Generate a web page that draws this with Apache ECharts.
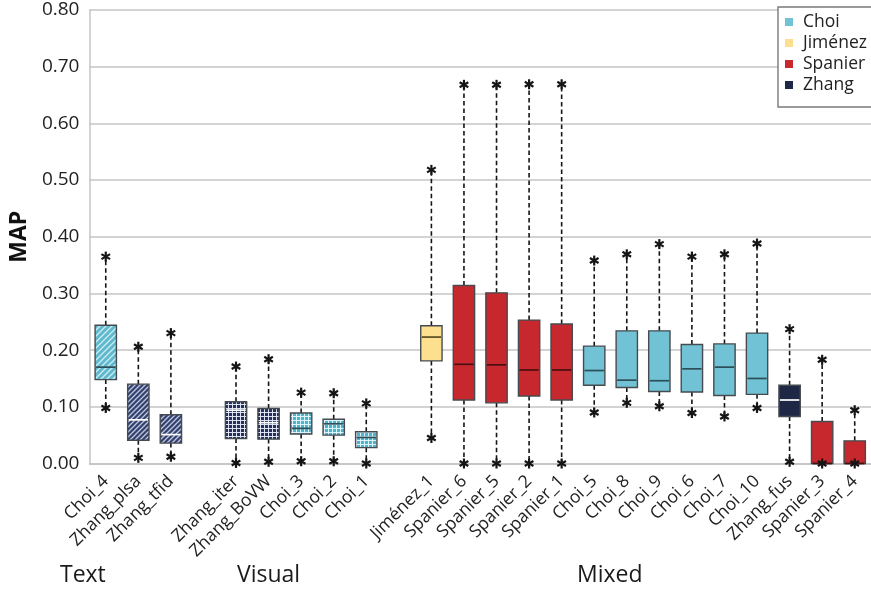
<!DOCTYPE html>
<html>
<head>
<meta charset="utf-8">
<script src="https://cdn.jsdelivr.net/npm/echarts@6/dist/echarts.min.js"></script>
<style>
html,body{margin:0;padding:0;background:#fff;}
#chart{width:871px;height:594px;}
</style>
</head>
<body>
<div id="chart"></div>
<script>
// ---- data ----
const categories = ['Choi_4','Zhang_plsa','Zhang_tfid',' ','Zhang_iter','Zhang_BoVW','Choi_3','Choi_2','Choi_1','  ',
  'Jiménez_1','Spanier_6','Spanier_5','Spanier_2','Spanier_1','Choi_5','Choi_8','Choi_9','Choi_6','Choi_7','Choi_10',
  'Zhang_fus','Spanier_3','Spanier_4'];
const authors = ['Choi','Zhang','Zhang',null,'Zhang','Zhang','Choi','Choi','Choi',null,
  'Jiménez','Spanier','Spanier','Spanier','Spanier','Choi','Choi','Choi','Choi','Choi','Choi',
  'Zhang','Spanier','Spanier'];
const fills = ['hatch','hatch','hatch',null,'grid','grid','grid','grid','grid',null,
  'solid','solid','solid','solid','solid','solid','solid','solid','solid','solid','solid',
  'solid','solid','solid'];
const whiskerLow = [0.098,0.010,0.012,null,0.001,0.003,0.004,0.004,0.000,null,
  0.045,0.000,0.000,0.000,0.000,0.090,0.107,0.101,0.089,0.083,0.098,0.003,0.000,0.000];
const boxLow = [0.148,0.041,0.036,null,0.044,0.043,0.052,0.050,0.028,null,
  0.181,0.112,0.107,0.119,0.112,0.138,0.134,0.127,0.126,0.120,0.122,0.083,0.000,0.000];
const medians = [0.170,0.077,0.051,null,0.094,0.072,0.062,0.070,0.046,null,
  0.223,0.175,0.174,0.165,0.165,0.164,0.147,0.146,0.167,0.170,0.150,0.112,0.000,0.000];
const boxHigh = [0.244,0.140,0.086,null,0.109,0.097,0.089,0.078,0.056,null,
  0.243,0.314,0.301,0.253,0.246,0.207,0.234,0.234,0.210,0.211,0.230,0.138,0.074,0.040];
const whiskerHigh = [0.365,0.206,0.230,null,0.171,0.184,0.125,0.124,0.106,null,
  0.518,0.668,0.668,0.669,0.669,0.358,0.369,0.387,0.365,0.369,0.388,0.237,0.183,0.094];
const legendNames = ['Choi','Jiménez','Spanier','Zhang'];
const yTicks = [0,0.1,0.2,0.3,0.4,0.5,0.6,0.7,0.8];
const groupLabels = ['Text','Visual','Mixed'];

// ---- styles ----
const authorColor = {Choi:'#70C2D4', 'Jiménez':'#FDE08F', Spanier:'#C7282D', Zhang:'#1E2846'};
const medianColor = {Choi:'#2c4f5a', 'Jiménez':'#5a4a20', Spanier:'#4a1010', Zhang:'#ffffff'};
const FONT = 'Open Sans';

function makeHatch(bg, fg, size, lw){
  const c = document.createElement('canvas'); c.width = size; c.height = size;
  const g = c.getContext('2d');
  g.fillStyle = bg; g.fillRect(0,0,size,size);
  g.strokeStyle = fg; g.lineWidth = lw;
  g.beginPath();
  g.moveTo(0,size); g.lineTo(size,0);
  g.moveTo(-size/2,size/2); g.lineTo(size/2,-size/2);
  g.moveTo(size/2,size*1.5); g.lineTo(size*1.5,size/2);
  g.stroke();
  return c;
}
function makeGrid(bg, fg, size, lw){
  const c = document.createElement('canvas'); c.width = size; c.height = size;
  const g = c.getContext('2d');
  g.fillStyle = bg; g.fillRect(0,0,size,size);
  g.fillStyle = fg;
  g.fillRect(0,0,size,lw); g.fillRect(0,0,lw,size);
  return c;
}
const patterns = {
  'hatch-Choi': {image: makeHatch('#5FB9CD','rgba(225,245,250,0.85)',6,1.3), repeat:'repeat'},
  'hatch-Zhang': {image: makeHatch('#34416E','rgba(205,214,235,0.9)',5,1.3), repeat:'repeat'},
  'grid-Choi': {image: makeGrid('#4FB3C9','rgba(235,250,255,0.9)',4,1), repeat:'repeat'},
  'grid-Zhang': {image: makeGrid('#26305A','rgba(230,235,248,0.95)',4,1), repeat:'repeat'}
};

function starShape(x, y, r){
  const out = [];
  for (let k = 0; k < 3; k++){
    const a = Math.PI/2 + k*Math.PI/3;
    const dx = Math.cos(a)*r, dy = Math.sin(a)*r;
    out.push({type:'line', shape:{x1:x-dx, y1:y-dy, x2:x+dx, y2:y+dy},
      style:{stroke:'#151515', lineWidth:2.2}});
  }
  return out;
}

function renderItem(params, api){
  const ci = api.value(0);
  const author = authors[ci];
  const x = api.coord([ci, 0])[0];
  const yLo = api.coord([ci, api.value(1)])[1];
  const yQ1 = api.coord([ci, api.value(2)])[1];
  const yMd = api.coord([ci, api.value(3)])[1];
  const yQ3 = api.coord([ci, api.value(4)])[1];
  const yHi = api.coord([ci, api.value(5)])[1];
  const bw = api.size([1,0])[0]*0.655;
  const f = fills[ci];
  const fill = f === 'solid' ? authorColor[author] : patterns[f + '-' + author];
  const dash = {stroke:'#151515', lineWidth:1.6, lineDash:[4.5,3]};
  const children = [
    {type:'line', shape:{x1:x, y1:yQ3, x2:x, y2:yHi}, style:dash},
    {type:'line', shape:{x1:x, y1:yQ1, x2:x, y2:yLo}, style:dash},
    {type:'rect', shape:{x:x-bw/2, y:yQ3, width:bw, height:Math.max(yQ1-yQ3,0)},
      style:{fill:fill, stroke:'#454b50', lineWidth:1.4}},
    {type:'line', shape:{x1:x-bw/2+1, y1:yMd, x2:x+bw/2-1, y2:yMd},
      style:{stroke:medianColor[author], lineWidth:1.7}}
  ];
  return {type:'group', children: children.concat(starShape(x, yHi, 5), starShape(x, yLo, 5))};
}

const series = legendNames.map(name => {
  const data = [];
  categories.forEach((c, i) => {
    if (authors[i] === name) {
      data.push([i, whiskerLow[i], boxLow[i], medians[i], boxHigh[i], whiskerHigh[i]]);
    }
  });
  return {
    name: name, type:'custom', renderItem: renderItem, data: data,
    itemStyle:{color: authorColor[name]},
    encode:{x:0, y:[1,2,3,4,5]}, clip:false, z:3
  };
});

const chart = echarts.init(document.getElementById('chart'), null, {renderer:'canvas'});
chart.setOption({
  animation:false,
  backgroundColor:'#ffffff',
  textStyle:{fontFamily:FONT},
  grid:{left:86, top:10, width:789.5, height:453.5, containLabel:false},
  legend:{
    orient:'vertical', left:778, top:7, data:legendNames, icon:'rect',
    itemWidth:8, itemHeight:8, itemGap:3,
    padding:[6,9,13,7], borderColor:'#7a7a7a', borderWidth:1.4, backgroundColor:'#ffffff',
    textStyle:{fontFamily:FONT, fontSize:17.5, lineHeight:18, color:'#222', padding:[0,0,0,5]}
  },
  xAxis:{
    type:'category', data:categories, boundaryGap:true,
    axisLine:{show:true, lineStyle:{color:'#c4c4c4', width:1.5}},
    axisTick:{show:false},
    axisLabel:{interval:0, rotate:45, fontSize:17.5, color:'#222', margin:15, fontFamily:FONT},
    splitLine:{show:false}
  },
  yAxis:{
    type:'value', min:yTicks[0], max:yTicks[yTicks.length-1], interval:0.1,
    name:'MAP', nameLocation:'middle', nameGap:58,
    nameTextStyle:{fontSize:23, fontWeight:'bold', color:'#111', fontFamily:FONT},
    axisLine:{show:true, lineStyle:{color:'#c4c4c4', width:1.5}},
    axisTick:{show:false},
    axisLabel:{formatter:v => v.toFixed(2), fontSize:19, color:'#222', margin:10, fontFamily:FONT},
    splitLine:{show:true, lineStyle:{color:'#c4c4c4', width:1.5}}
  },
  graphic:[
    {type:'text', left:60, top:564, style:{text:groupLabels[0], fontSize:23, fill:'#1a1a1a', fontFamily:FONT}},
    {type:'text', left:237, top:564, style:{text:groupLabels[1], fontSize:23, fill:'#1a1a1a', fontFamily:FONT}},
    {type:'text', left:577, top:564, style:{text:groupLabels[2], fontSize:23, fill:'#1a1a1a', fontFamily:FONT}}
  ],
  series: series
});
</script>
</body>
</html>
